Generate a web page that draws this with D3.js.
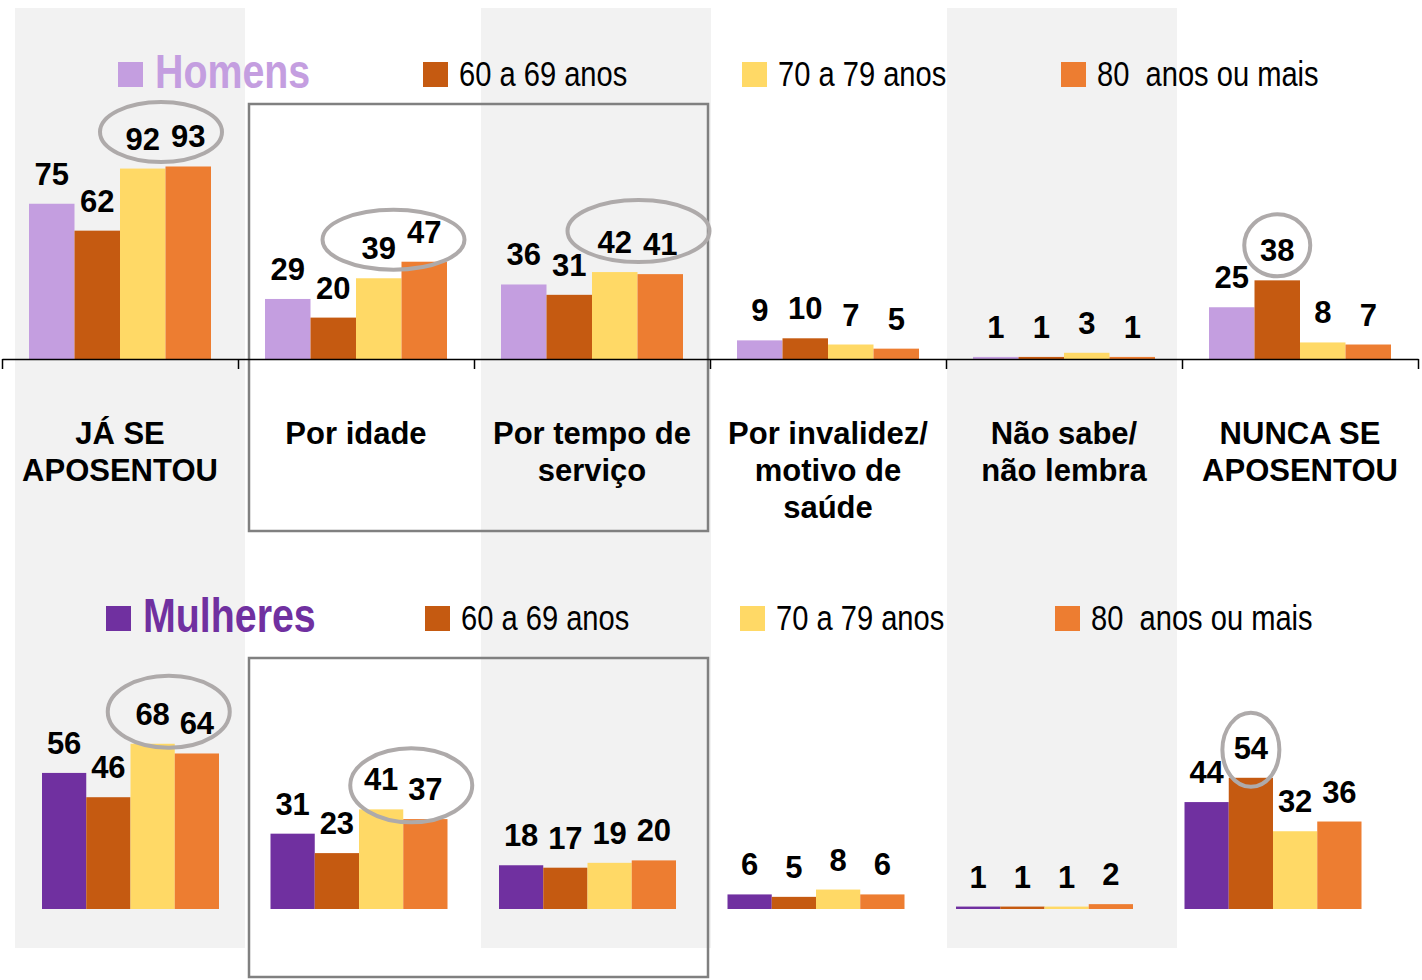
<!DOCTYPE html>
<html>
<head>
<meta charset="utf-8">
<script src="https://cdn.jsdelivr.net/npm/d3@7"></script>
<style>
  body { margin: 0; background: #fff; }
  svg { display: block; }
  .lbl { font-family: "Liberation Sans", Arial, sans-serif; font-weight: bold; }
  .narrow { font-family: "Liberation Sans", Arial, sans-serif; }
</style>
</head>
<body>
<script>
// categories and text
var categories = ["JÁ SE APOSENTOU", "Por idade", "Por tempo de serviço", "Por invalidez/ motivo de saúde", "Não sabe/ não lembra", "NUNCA SE APOSENTOU"];
var categoryLines = [["JÁ SE", "APOSENTOU"], ["Por idade"], ["Por tempo de", "serviço"], ["Por invalidez/", "motivo de", "saúde"], ["Não sabe/", "não lembra"], ["NUNCA SE", "APOSENTOU"]];
var ageGroups = ["60 a 69 anos", "70 a 79 anos", "80\u00A0 anos ou mais"];

// Homens
var homensTotal = [75, 29, 36, 9, 1, 25];
var homens6069 = [62, 20, 31, 10, 1, 38];
var homens7079 = [92, 39, 42, 7, 3, 8];
var homens80 = [93, 47, 41, 5, 1, 7];

// Mulheres
var mulheresTotal = [56, 31, 18, 6, 1, 44];
var mulheres6069 = [46, 23, 17, 5, 1, 54];
var mulheres7079 = [68, 41, 19, 8, 1, 32];
var mulheres80 = [64, 37, 20, 6, 2, 36];

var ageColors = ["#C55A11", "#FFD966", "#ED7D31"];

// circled values: category index, series indices, tweaks
var circlesHomens = [
  { cat: 0, bars: [2, 3], dx: -4.5, dy: 34.5, rx: 61, ry: 30 },
  { cat: 1, bars: [2, 3], dx: -8, dy: 22, rx: 71, ry: 30 },
  { cat: 2, bars: [2, 3], dx: 1, dy: 41, rx: 71, ry: 31 },
  { cat: 5, bars: [1], dx: 0, dy: 35, rx: 33, ry: 31 }
];
var circlesMulheres = [
  { cat: 0, bars: [2, 3], dx: -6, dy: 32, rx: 61, ry: 36 },
  { cat: 1, bars: [2, 3], dx: 8, dy: 24, rx: 61, ry: 37 },
  { cat: 5, bars: [1], dx: 0, dy: 28, rx: 28.5, ry: 37 }
];

var W = 1422, H = 980;
var svg = d3.select('body').append('svg')
  .attr('width', W)
  .attr('height', H);

// grey stripes behind every other category
var xStripe = d3.scaleBand().domain(d3.range(6)).range([15, 15 + 6 * 233]);
svg.append('g').selectAll('rect')
  .data([0, 2, 4])
  .enter().append('rect')
  .attr('x', function(d) { return xStripe(d); })
  .attr('y', 8)
  .attr('width', 230)
  .attr('height', 940)
  .style('fill', '#F2F2F2');

// top row scale, also used for the frames
var xTop = d3.scaleBand().domain(d3.range(categories.length)).range([2, 1418]);

function drawPanel(cfg) {
  var x0 = d3.scaleBand().domain(d3.range(categories.length)).range(cfg.xRange);
  var off = (x0.bandwidth() - cfg.groupW) / 2;
  var x1 = d3.scaleBand().domain(d3.range(4)).range([0, cfg.groupW]);
  var y = d3.scaleLinear().domain([0, 100]).range([cfg.base, cfg.base - cfg.h100]);
  var series = cfg.series;
  var colors = [cfg.mainColor].concat(ageColors);

  // highlight frame around "Por idade" + "Por tempo de serviço"
  svg.append('rect')
    .attr('x', xTop(1) + 11)
    .attr('y', cfg.frameTop)
    .attr('width', xTop(2) + xTop.bandwidth() - 2 - (xTop(1) + 11))
    .attr('height', cfg.frameBottom - cfg.frameTop)
    .style('fill', 'none')
    .style('stroke', '#808080')
    .style('stroke-width', 2.5);

  var g = svg.append('g');
  for (var s = 0; s < series.length; ++s) {
    g.append('g').selectAll('rect')
      .data(series[s])
      .enter().append('rect')
      .attr('x', function(d, i) { return x0(i) + off + x1(s); })
      .attr('y', function(d) { return y(d); })
      .attr('width', x1.bandwidth())
      .attr('height', function(d) { return cfg.base - y(d); })
      .style('fill', colors[s]);
  }

  if (cfg.axis) {
    var edges = d3.scaleLinear().domain([0, 6]).range(cfg.xRange);
    var ax = svg.append('g')
      .attr('transform', 'translate(0,' + cfg.base + ')')
      .call(d3.axisBottom(edges).tickValues(d3.range(7)).tickFormat('').tickSize(10).tickSizeOuter(0));
    ax.selectAll('path, line').style('stroke', '#000').style('stroke-width', 1.5);
  }

  // value labels
  for (var s2 = 0; s2 < series.length; ++s2) {
    g.append('g').selectAll('text')
      .data(series[s2])
      .enter().append('text')
      .attr('class', 'lbl')
      .attr('x', function(d, i) { return x0(i) + off + x1(s2) + x1.bandwidth() / 2; })
      .attr('y', function(d) { return y(d) - 19; })
      .attr('text-anchor', 'middle')
      .style('font-size', '31px')
      .text(function(d) { return d; });
  }

  // circles around highlighted values
  svg.append('g').selectAll('ellipse')
    .data(cfg.circles)
    .enter().append('ellipse')
    .attr('cx', function(c) {
      var xs = c.bars.map(function(b) { return x0(c.cat) + off + x1(b) + x1.bandwidth() / 2; });
      return d3.mean(xs) + c.dx;
    })
    .attr('cy', function(c) {
      return d3.min(c.bars, function(b) { return y(series[b][c.cat]); }) - c.dy;
    })
    .attr('rx', function(c) { return c.rx; })
    .attr('ry', function(c) { return c.ry; })
    .style('fill', 'none')
    .style('stroke', '#AEAAAA')
    .style('stroke-width', 4);

  // legend (condensed look: squeeze Liberation Sans horizontally)
  var leg = svg.append('g');
  leg.append('rect')
    .attr('x', cfg.legX[0]).attr('y', cfg.legY - 24)
    .attr('width', 25).attr('height', 25)
    .style('fill', cfg.mainColor);
  leg.append('text')
    .attr('class', 'narrow')
    .attr('transform', 'translate(' + (cfg.legX[0] + 37) + ',' + (cfg.legY + 2) + ') scale(0.82,1)')
    .style('font-size', '48px')
    .style('font-weight', 'bold')
    .style('fill', cfg.mainColor)
    .text(cfg.title);
  for (var a = 0; a < ageGroups.length; ++a) {
    leg.append('rect')
      .attr('x', cfg.legX[a + 1]).attr('y', cfg.legY - 24)
      .attr('width', 25).attr('height', 25)
      .style('fill', ageColors[a]);
    leg.append('text')
      .attr('class', 'narrow')
      .attr('transform', 'translate(' + (cfg.legX[a + 1] + 36) + ',' + (cfg.legY - 0.5) + ') scale(0.82,1)')
      .style('font-size', '35.5px')
      .style('fill', '#000')
      .text(ageGroups[a]);
  }

  if (cfg.axis) {
    var cl = svg.append('g').selectAll('text')
      .data(categoryLines)
      .enter().append('text')
      .attr('class', 'lbl')
      .attr('text-anchor', 'middle')
      .attr('x', function(d, i) { return x0(i) + x0.bandwidth() / 2; })
      .attr('y', 444)
      .style('font-size', '31px');
    cl.selectAll('tspan')
      .data(function(d) { return d; })
      .enter().append('tspan')
      .attr('x', function() { return d3.select(this.parentNode).attr('x'); })
      .attr('dy', function(d, i) { return i === 0 ? 0 : 37; })
      .text(function(d) { return d; });
  }
}

drawPanel({
  title: 'Homens',
  mainColor: '#C49EE0',
  series: [homensTotal, homens6069, homens7079, homens80],
  circles: circlesHomens,
  xRange: [2, 1418],
  groupW: 182,
  base: 359,
  h100: 207,
  axis: true,
  frameTop: 104,
  frameBottom: 531,
  legX: [118, 423, 742, 1061],
  legY: 86
});

drawPanel({
  title: 'Mulheres',
  mainColor: '#7030A0',
  series: [mulheresTotal, mulheres6069, mulheres7079, mulheres80],
  circles: circlesMulheres,
  xRange: [16.25, 1387.25],
  groupW: 177,
  base: 909,
  h100: 243,
  axis: false,
  frameTop: 658,
  frameBottom: 977,
  legX: [106, 425, 740, 1055],
  legY: 630
});
</script>
</body>
</html>
